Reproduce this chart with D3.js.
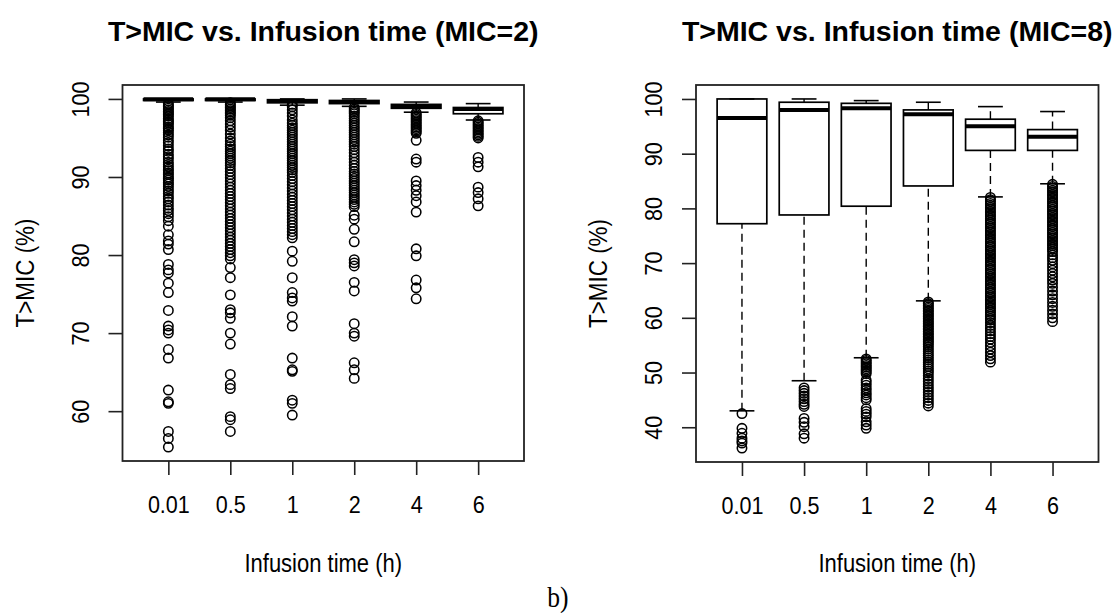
<html>
<head>
<meta charset="utf-8"/>
<title>T>MIC vs. Infusion time</title>
<script src="https://d3js.org/d3.v7.min.js"></script>
<style>
  body { margin: 0; background: #fff; }
  text { font-family: "Liberation Sans", Arial, sans-serif; fill: #000; }
</style>
</head>
<body>
<div id="chart"></div>
<script>

// infusion time categories
var groups = ["0.01", "0.5", "1", "2", "4", "6"];

var yTicksMic2 = [60, 70, 80, 90, 100];
var yTicksMic8 = [40, 50, 60, 70, 80, 90, 100];

// box stats per group: lower whisker, Q1, median, Q3, upper whisker
var mic2Box = [
  [99.6, 99.8, 99.95, 100, 100],
  [99.6, 99.8, 99.95, 100, 100],
  [99.2, 99.5, 99.75, 99.9, 100],
  [99.05, 99.4, 99.6, 99.8, 100],
  [98.3, 98.8, 99.1, 99.3, 99.6],
  [97.3, 98.1, 98.7, 98.9, 99.4]
];

var mic8Box = [
  [43.0, 77.2, 96.5, 100, 100],
  [48.5, 78.8, 98.0, 99.4, 100],
  [52.7, 80.4, 98.3, 99.2, 99.7],
  [63.1, 84.1, 97.2, 98.0, 99.4],
  [82.1, 90.6, 95.0, 96.3, 98.6],
  [84.5, 90.6, 93.1, 94.4, 97.7]
];

// outliers
var mic2Out = [
  [99.4, 99.2, 99.0, 98.8, 98.6, 98.4, 98.2, 98.0, 97.8, 97.5, 97.3, 97.1, 96.9, 96.7, 96.4, 96.2, 96.0, 95.7, 95.4, 95.1, 94.7, 94.4, 94.0, 93.6, 93.3, 92.9, 92.6, 92.3, 91.9, 91.6, 91.3, 91.0, 90.8, 90.5, 90.3, 90.0, 89.8, 89.6, 89.3, 89.1, 88.8, 88.5, 88.2, 87.9, 87.5, 87.2, 86.8, 86.4, 86.0, 85.7, 85.3, 84.9, 84.4, 83.7, 82.6, 81.8, 81.4, 80.7, 78.8, 78.1, 77.7, 76.4, 75.2, 72.9, 70.9, 70.4, 70.0, 67.9, 66.8, 62.7, 61.2, 61.0, 57.4, 56.5, 55.4],
  [99.5, 99.3, 99.1, 98.9, 98.7, 98.5, 98.3, 98.1, 97.9, 97.6, 97.2, 96.8, 96.4, 96.0, 95.5, 95.0, 94.6, 94.2, 93.9, 93.6, 93.3, 93.0, 92.7, 92.4, 92.1, 91.8, 91.5, 91.1, 90.7, 90.3, 89.9, 89.5, 89.1, 88.7, 88.3, 87.9, 87.5, 87.1, 86.7, 86.3, 85.9, 85.5, 85.1, 84.7, 84.3, 83.9, 83.5, 83.1, 82.7, 82.3, 81.9, 81.5, 81.1, 80.7, 80.3, 79.9, 79.5, 78.4, 77.1, 74.9, 73.0, 72.6, 71.9, 70.0, 68.6, 64.7, 63.4, 62.9, 59.3, 58.9, 57.4],
  [99.3, 99.0, 98.6, 98.2, 97.8, 97.3, 96.9, 96.6, 96.3, 96.0, 95.7, 95.4, 95.1, 94.8, 94.5, 94.2, 93.9, 93.6, 93.3, 93.0, 92.7, 92.4, 92.1, 91.8, 91.5, 91.2, 90.9, 90.6, 90.2, 89.8, 89.4, 89.0, 88.6, 88.2, 87.8, 87.4, 87.0, 86.6, 86.2, 85.8, 85.4, 85.0, 84.6, 84.2, 83.8, 83.4, 83.0, 82.6, 82.2, 80.5, 79.2, 77.1, 75.2, 74.5, 74.1, 72.1, 70.9, 66.8, 65.3, 65.1, 61.4, 61.0, 59.5],
  [98.9, 98.7, 98.5, 98.3, 98.1, 97.8, 97.5, 97.2, 96.9, 96.6, 96.3, 96.0, 95.7, 95.4, 95.1, 94.8, 94.5, 94.2, 93.9, 93.5, 93.1, 92.7, 92.3, 91.9, 91.5, 91.1, 90.7, 90.4, 90.1, 89.8, 89.5, 89.2, 88.9, 88.6, 88.3, 88.0, 87.7, 87.4, 87.1, 86.8, 86.5, 86.2, 85.1, 84.6, 83.3, 81.7, 79.4, 79.0, 78.6, 76.5, 75.4, 71.2, 70.0, 69.6, 66.2, 65.3, 64.2],
  [98.2, 98.0, 97.8, 97.6, 97.4, 97.2, 97.0, 96.8, 96.6, 96.4, 96.2, 96.0, 95.8, 95.6, 94.7, 92.3, 91.9, 89.5, 88.9, 88.3, 87.6, 86.8, 85.5, 80.8, 79.9, 76.8, 75.8, 74.4],
  [97.2, 97.0, 96.8, 96.6, 96.4, 96.2, 96.0, 95.8, 95.6, 95.4, 95.2, 95.0, 92.5, 91.9, 91.3, 88.7, 88.0, 87.2, 86.3]
];

var mic8Out = [
  [42.5, 39.8, 38.9, 38.0, 37.5, 37.1, 36.2],
  [47.2, 46.7, 46.2, 45.7, 45.2, 44.7, 44.2, 43.8, 41.6, 40.9, 40.1, 38.8, 38.0],
  [52.5, 52.2, 51.9, 51.6, 51.3, 51.0, 50.7, 50.4, 50.1, 49.8, 48.6, 48.2, 47.7, 47.2, 46.8, 46.3, 45.9, 45.4, 45.0, 43.4, 42.9, 42.4, 41.9, 41.0, 40.4, 39.8],
  [62.9, 62.6, 62.3, 62.0, 61.7, 61.4, 61.1, 60.8, 60.5, 60.2, 59.9, 59.6, 59.3, 59.0, 58.7, 58.4, 58.1, 57.8, 57.5, 57.2, 56.9, 56.6, 56.3, 56.0, 55.7, 55.4, 55.1, 54.7, 54.3, 53.9, 53.5, 53.1, 52.7, 52.3, 51.9, 51.5, 51.1, 50.7, 50.3, 49.9, 49.4, 48.9, 48.4, 47.9, 47.4, 46.9, 46.4, 45.9, 45.4, 44.9, 44.4, 43.9],
  [82.0, 81.6, 81.3, 80.9, 80.6, 80.2, 79.9, 79.5, 79.2, 78.8, 78.5, 78.1, 77.8, 77.4, 77.1, 76.7, 76.4, 76.0, 75.7, 75.3, 75.0, 74.6, 74.3, 73.9, 73.6, 73.2, 72.9, 72.5, 72.2, 71.8, 71.5, 71.1, 70.8, 70.4, 70.1, 69.7, 69.4, 69.0, 68.7, 68.3, 68.0, 67.6, 67.3, 66.9, 66.6, 66.2, 65.9, 65.5, 65.2, 64.8, 64.5, 64.1, 63.8, 63.4, 63.1, 62.7, 62.4, 62.0, 61.7, 61.3, 61.0, 60.6, 60.3, 59.9, 59.6, 59.1, 58.6, 58.1, 57.6, 57.1, 56.6, 56.1, 55.5, 54.9, 54.3, 53.7, 53.1, 52.5, 51.9],
  [84.4, 84.0, 83.7, 83.3, 83.0, 82.6, 82.3, 81.9, 81.6, 81.2, 80.9, 80.5, 80.2, 79.8, 79.5, 79.1, 78.8, 78.4, 78.1, 77.7, 77.4, 77.0, 76.7, 76.3, 76.0, 75.6, 75.3, 74.9, 74.6, 74.2, 73.9, 73.5, 73.2, 72.8, 72.5, 72.1, 71.5, 71.0, 70.5, 69.9, 69.3, 68.7, 68.1, 67.5, 66.9, 66.3, 65.6, 64.9, 64.2, 63.5, 62.8, 62.1, 61.4, 60.7, 60.0, 59.3]
];

var W = 1117, H = 613;
var squeeze = "scale(0.88,1)";   // the source text is a bit narrow

var svg = d3.select("#chart").append("svg")
    .attr("width", W).attr("height", H)
    .style("display", "block").style("background", "#fff");

drawPanel({title: "T>MIC vs. Infusion time (MIC=2)", box: mic2Box, out: mic2Out, ticks: yTicksMic2,
           left: 122.5, right: 524, top: 85, bottom: 461});
drawPanel({title: "T>MIC vs. Infusion time (MIC=8)", box: mic8Box, out: mic8Out, ticks: yTicksMic8,
           left: 696, right: 1098.5, top: 85, bottom: 462});

svg.append("text").attr("transform", "translate(558,607) " + squeeze).attr("text-anchor", "middle")
   .style("font-family", "'Liberation Serif', 'Times New Roman', serif").style("font-size", "29px")
   .text("b)");

function drawPanel(p) {
  var n = groups.length;
  // R style: categories at 1..n, xlim n+-0.5 then 4% extension
  var x = d3.scaleLinear().domain([0.5 - 0.04 * n, n + 0.5 + 0.04 * n]).range([p.left, p.right]);

  var all = d3.merge(p.out).concat(p.box.map(function(b) { return b[0]; }), p.box.map(function(b) { return b[4]; }));
  var lo = d3.min(all), hi = d3.max(all), pad = (hi - lo) * 0.04;
  var y = d3.scaleLinear().domain([lo - pad, hi + pad]).range([p.bottom, p.top]);

  var g = svg.append("g");
  var cx = (p.left + p.right) / 2;

  g.append("text").attr("x", cx).attr("y", 41).attr("text-anchor", "middle")
    .style("font-size", "28.5px").style("font-weight", "bold").text(p.title);

  // boxes
  var bx = g.selectAll(".bx").data(p.box).enter().append("g").attr("class", "bx");

  bx.append("line").attr("x1", function(d, i) { return x(i + 1); }).attr("x2", function(d, i) { return x(i + 1); })
    .attr("y1", function(d) { return y(d[0]); }).attr("y2", function(d) { return y(d[1]); })
    .attr("stroke", "#000").attr("stroke-width", 1.4).attr("stroke-dasharray", "8,5");
  bx.append("line").attr("x1", function(d, i) { return x(i + 1); }).attr("x2", function(d, i) { return x(i + 1); })
    .attr("y1", function(d) { return y(d[3]); }).attr("y2", function(d) { return y(d[4]); })
    .attr("stroke", "#000").attr("stroke-width", 1.4).attr("stroke-dasharray", "8,5");

  [0, 4].forEach(function(k) {
    bx.append("line").attr("x1", function(d, i) { return x(i + 0.8); }).attr("x2", function(d, i) { return x(i + 1.2); })
      .attr("y1", function(d) { return y(d[k]); }).attr("y2", function(d) { return y(d[k]); })
      .attr("stroke", "#000").attr("stroke-width", 1.6);
  });

  bx.append("rect").attr("x", function(d, i) { return x(i + 0.6); })
    .attr("width", x(1.4) - x(0.6))
    .attr("y", function(d) { return y(d[3]); })
    .attr("height", function(d) { return y(d[1]) - y(d[3]); })
    .attr("fill", "none").attr("stroke", "#000").attr("stroke-width", 1.7);

  bx.append("line").attr("x1", function(d, i) { return x(i + 0.6); }).attr("x2", function(d, i) { return x(i + 1.4); })
    .attr("y1", function(d) { return y(d[2]); }).attr("y2", function(d) { return y(d[2]); })
    .attr("stroke", "#000").attr("stroke-width", 4);

  // outliers
  p.out.forEach(function(vals, i) {
    g.selectAll(null).data(vals).enter().append("circle")
      .attr("cx", x(i + 1)).attr("cy", function(d) { return y(d); }).attr("r", 4.7)
      .attr("fill", "none").attr("stroke", "#000").attr("stroke-width", 1.55);
  });

  // frame
  g.append("rect").attr("x", p.left).attr("y", p.top)
    .attr("width", p.right - p.left).attr("height", p.bottom - p.top)
    .attr("fill", "none").attr("stroke", "#222").attr("stroke-width", 1.8);

  var ya = g.append("g").attr("transform", "translate(" + p.left + ",0)")
    .call(d3.axisLeft(y).tickValues(p.ticks).tickSize(14).tickFormat(d3.format("d")));
  ya.select(".domain").remove();
  ya.selectAll(".tick line").attr("stroke", "#222").attr("stroke-width", 1.6);
  ya.selectAll(".tick text").attr("transform", "rotate(-90) " + squeeze).attr("x", 0).attr("y", -34).attr("dy", 0)
    .attr("text-anchor", "middle").style("font-size", "24.5px").attr("fill", "#000")
    .style("font-family", "'Liberation Sans', Arial, sans-serif");

  var xa = g.append("g").attr("transform", "translate(0," + p.bottom + ")")
    .call(d3.axisBottom(x).tickValues(d3.range(1, n + 1)).tickSize(14).tickFormat(function(d) { return groups[d - 1]; }));
  xa.select(".domain").remove();
  xa.selectAll(".tick line").attr("stroke", "#222").attr("stroke-width", 1.6);
  xa.selectAll(".tick text").attr("transform", squeeze).attr("y", 52).attr("dy", 0).style("font-size", "24.5px").attr("fill", "#000")
    .style("font-family", "'Liberation Sans', Arial, sans-serif");

  g.append("text").attr("transform", "translate(" + cx + ",572) " + squeeze).attr("text-anchor", "middle")
    .style("font-size", "25px").text("Infusion time (h)");

  g.append("text").attr("transform", "translate(" + (p.left - 89) + "," + ((p.top + p.bottom) / 2) + ") rotate(-90) " + squeeze)
    .attr("text-anchor", "middle").style("font-size", "25.5px").text("T>MIC (%)");
}

</script>
</body>
</html>
